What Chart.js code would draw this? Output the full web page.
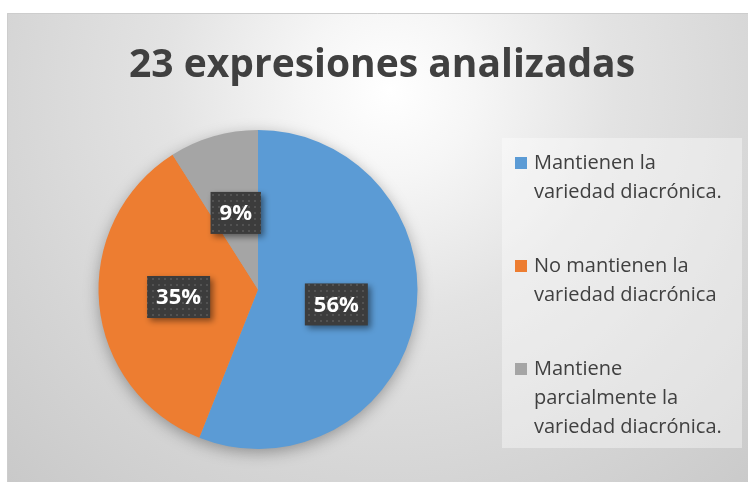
<!DOCTYPE html>
<html>
<head>
<meta charset="utf-8">
<script src="https://cdn.jsdelivr.net/npm/chart.js@4"></script>
<style>
  html, body { margin: 0; padding: 0; background: #fff; }
</style>
</head>
<body>
<canvas id="pie" width="748" height="482"></canvas>
<script>
const TITLE = '23 expresiones analizadas';
const CATEGORIES = [
  ['Mantienen la', 'variedad diacrónica.'],
  ['No mantienen la', 'variedad diacrónica'],
  ['Mantiene', 'parcialmente la', 'variedad diacrónica.']
];
const PERCENTS = [56, 35, 9];
const COLOURS = ['#5B9BD5', '#ED7D31', '#A5A5A5'];

const TEXT_COLOR = '#404040';
const FONT = '"Open Sans", "Noto Sans", sans-serif';

// dotted dark fill used behind the data labels
function labelPattern(ctx) {
  const tile = document.createElement('canvas');
  tile.width = 6; tile.height = 6;
  const t = tile.getContext('2d');
  t.fillStyle = '#3c3c3c';
  t.fillRect(0, 0, 6, 6);
  t.fillStyle = '#525252';
  t.fillRect(2, 2, 2, 2);
  return ctx.createPattern(tile, 'repeat');
}

const backdrop = {
  id: 'backdrop',
  beforeDraw(chart) {
    const { ctx, width, height } = chart;
    ctx.save();
    ctx.fillStyle = '#fff';
    ctx.fillRect(0, 0, width, height);

    const g = ctx.createRadialGradient(390, 90, 0, 390, 90, 560);
    g.addColorStop(0, '#ffffff');
    g.addColorStop(0.15, '#f6f6f6');
    g.addColorStop(0.4, '#e3e3e3');
    g.addColorStop(0.7, '#d5d5d5');
    g.addColorStop(1, '#c8c8c8');
    ctx.fillStyle = g;
    ctx.fillRect(7, 13, width - 7, height - 13);

    ctx.strokeStyle = '#cdcdcd';
    ctx.lineWidth = 1;
    ctx.beginPath();
    ctx.moveTo(7.5, height);
    ctx.lineTo(7.5, 13.5);
    ctx.lineTo(width, 13.5);
    ctx.stroke();

    // title
    ctx.font = `bold 39px ${FONT}`;
    ctx.fillStyle = TEXT_COLOR;
    ctx.textAlign = 'center';
    ctx.textBaseline = 'alphabetic';
    ctx.fillText(TITLE, 382, 77);

    // legend
    ctx.fillStyle = 'rgba(255,255,255,0.38)';
    ctx.fillRect(502, 138, 240, 310);
    const labels = chart.data.labels;
    const cols = chart.data.datasets[0].backgroundColor;
    ctx.font = `20px ${FONT}`;
    ctx.textAlign = 'left';
    let y = 169;
    labels.forEach((lines, i) => {
      ctx.fillStyle = cols[i];
      ctx.fillRect(515, y - 12, 12, 12);
      ctx.fillStyle = TEXT_COLOR;
      lines.forEach((line, j) => {
        ctx.fillText(line, 534, y + j * 29);
      });
      y += (lines.length - 1) * 29 + 74;
    });
    ctx.restore();
  },
  beforeDatasetsDraw(chart) {
    // soft shadow under the whole pie
    const { ctx } = chart;
    const arc = chart.getDatasetMeta(0).data[0];
    if (!arc) return;
    ctx.save();
    ctx.shadowColor = 'rgba(0,0,0,0.35)';
    ctx.shadowBlur = 16;
    ctx.shadowOffsetY = 4;
    ctx.fillStyle = '#a5a5a5';
    ctx.beginPath();
    ctx.arc(arc.x, arc.y, arc.outerRadius - 1, 0, Math.PI * 2);
    ctx.fill();
    ctx.restore();
  }
};

const pctLabels = {
  id: 'pctLabels',
  afterDatasetsDraw(chart) {
    const { ctx } = chart;
    const values = chart.data.datasets[0].data;
    const pattern = labelPattern(ctx);
    ctx.save();
    ctx.font = `bold 22px ${FONT}`;
    ctx.textAlign = 'center';
    ctx.textBaseline = 'middle';
    chart.getDatasetMeta(0).data.forEach((arc, i) => {
      const { x, y } = arc.getCenterPoint();
      const text = values[i] + '%';
      const w = ctx.measureText(text).width + 18;
      const h = 42;
      ctx.save();
      ctx.shadowColor = 'rgba(0,0,0,0.45)';
      ctx.shadowBlur = 6;
      ctx.shadowOffsetX = 3;
      ctx.shadowOffsetY = 3;
      ctx.fillStyle = pattern;
      ctx.fillRect(x - w / 2, y - h / 2, w, h);
      ctx.restore();
      ctx.fillStyle = '#ffffff';
      ctx.fillText(text, x, y + 1);
    });
    ctx.restore();
  }
};

new Chart(document.getElementById('pie'), {
  type: 'pie',
  data: {
    labels: CATEGORIES,
    datasets: [{
      data: PERCENTS,
      backgroundColor: COLOURS,
      borderWidth: 0
    }]
  },
  options: {
    responsive: false,
    animation: false,
    events: [],
    layout: { padding: { left: 98.5, right: 330.5, top: 130, bottom: 33 } },
    plugins: {
      legend: { display: false },
      title: { display: false },
      tooltip: { enabled: false }
    }
  },
  plugins: [backdrop, pctLabels]
});
</script>
</body>
</html>
